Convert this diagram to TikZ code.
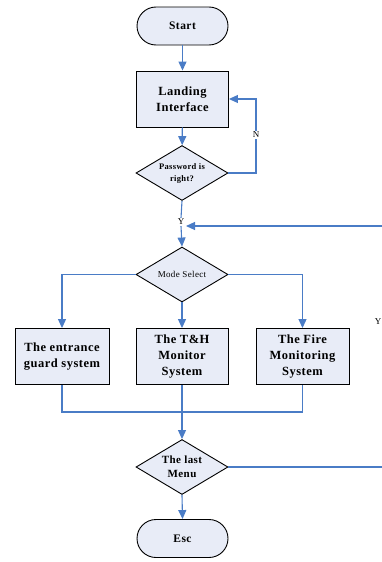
\documentclass[tikz,border=0pt]{standalone}
\usepackage{fontspec}
\setmainfont{Liberation Serif}[LetterSpace=4]
\usetikzlibrary{shapes.geometric,arrows.meta}
\definecolor{fillc}{HTML}{E8ECF7}
\definecolor{linec}{HTML}{4A7CC6}
\begin{document}
\begin{tikzpicture}[x=1pt,y=-1pt,
  term/.style={draw=black,line width=0.9pt,fill=fillc,rounded corners=19pt,minimum width=91pt,minimum height=38pt,font=\bfseries\fontsize{11.5}{13}\selectfont,inner sep=0pt},
  proc/.style={draw=black,line width=0.9pt,fill=fillc,minimum width=92pt,minimum height=56pt,align=center,font=\bfseries\fontsize{12.5}{16}\selectfont,inner sep=0pt},
  dec/.style={draw=black,line width=0.9pt,fill=fillc,diamond,minimum width=92pt,minimum height=55pt,aspect=1.67,inner sep=0pt,align=center},
  conn/.style={draw=linec,line width=1.1pt},
  arr/.style={conn,-{Triangle[width=8pt,length=9pt]}},
  lbl/.style={font=\fontsize{9}{10}\selectfont,fill=white,inner sep=1pt}
]
\useasboundingbox (0,0) rectangle (382,562);
\node[term] (start) at (182.5,26) {Start};
\node[proc] (land) at (182.5,99) {Landing\\Interface};
\node[dec,font=\bfseries\fontsize{8.5}{12}\selectfont] (pw) at (182,173) {Password is\\right?};
\node[dec,font=\fontsize{9}{10}\selectfont] (mode) at (182,274.5) {Mode Select};
\node[proc,minimum width=94pt] (b1) at (62,356.5) {The entrance\\guard system};
\node[proc] (b2) at (182,356.5) {The T\&H\\Monitor\\System};
\node[proc,minimum width=93pt] (b3) at (302.5,356.5) {The Fire\\Monitoring\\System};
\node[dec,font=\bfseries\fontsize{11}{14}\selectfont] (last) at (182,467) {The last\\Menu};
\node[term] (esc) at (182.5,538.5) {Esc};

\node[lbl] (nl) at (256,135) {N};
\node[lbl] (yl) at (181,222) {Y};
\node[lbl,fill=none] (ystray) at (378,322) {Y};

\coordinate (rin) at (382,226);
\coordinate (rout) at (382,467);
\coordinate (join) at (182,412);

\draw[arr] (start) -- (land);
\draw[arr] (land) -- (pw);
\draw[conn] (pw.east) -| (nl.south);
\draw[arr] (nl.north) |- (land.east);
\draw[conn] (pw.south) -- (yl.north);
\draw[arr] (yl.south) -- (mode.north);
\draw[arr] (rin) -- (186,226);
\draw[arr] (mode.west) -| (b1.north);
\draw[arr] (mode.south) -- (b2.north);
\draw[arr] (mode.east) -| (b3.north);
\draw[conn] (b1.south) |- (join) -| (b3.south);
\draw[conn] (b2.south) -- (join);
\draw[arr] (join) -- (last.north);
\draw[conn] (last.east) -- (rout);
\draw[arr] (last.south) -- (esc.north);
\end{tikzpicture}
\end{document}
